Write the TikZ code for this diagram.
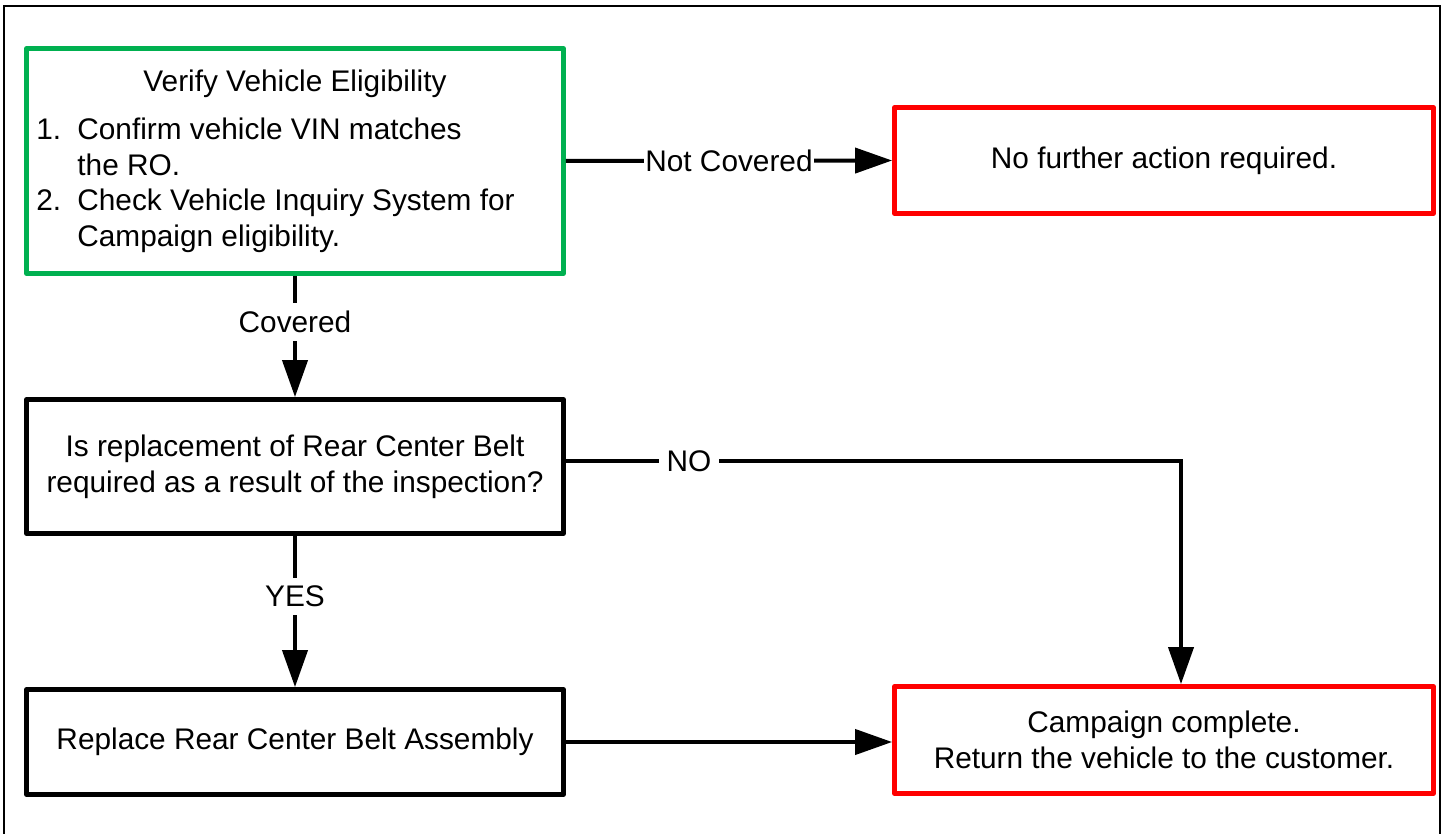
\documentclass[tikz,border=0pt]{standalone}
\usepackage{fontspec}
\setmainfont{Liberation Sans}
\usetikzlibrary{arrows.meta}
\definecolor{boxgreen}{RGB}{0,176,80}
\definecolor{boxred}{RGB}{255,0,0}
\begin{document}
\begin{tikzpicture}[x=0.5pt,y=-0.5pt,
  every node/.style={font=\fontsize{14.9}{17.9}\selectfont},
  box/.style={draw, line width=2.4pt, inner sep=0pt, align=center, line join=round},
  txt/.style={anchor=base west, inner sep=0pt},
  arr/.style={line width=2pt, -{Triangle[length=18.5pt,width=12.5pt]}},
  lbl/.style={fill=white, inner sep=4pt}]
\useasboundingbox (0,0) rectangle (1449,834);
\fill[white] (0,0) rectangle (1449,834);
\draw[line width=1pt] (4,834) -- (4,6) -- (1440,6) -- (1440,834);

% boxes
\node[box, draw=boxgreen, minimum width=268.5pt, minimum height=112.5pt] (g) at (295,161) {};
\node[anchor=base, inner sep=0pt] (gt) at (295,92) {Verify Vehicle Eligibility};
\node[txt] (g1a) at (36,139.5) {\makebox[20.5pt][l]{1.}Confirm vehicle VIN matches};
\node[txt] (g1b) at (36,175.2) {\hspace*{20.5pt}the RO.};
\node[txt] (g2a) at (36,210.9) {\makebox[20.5pt][l]{2.}Check Vehicle Inquiry System for};
\node[txt] (g2b) at (36,246.6) {\hspace*{20.5pt}Campaign eligibility.};

\node[box, draw=boxred, minimum width=269.5pt, minimum height=53pt] (r1) at (1164,160.5) {No further action required.};
\node[box, minimum width=268.5pt, minimum height=67pt] (b1) at (295,466.5) {Is replacement of Rear Center Belt\\required as a result of the inspection?};
\node[box, minimum width=268.5pt, minimum height=52.5pt] (b2) at (295,742) {Replace Rear Center Belt Assembly};
\node[box, draw=boxred, minimum width=269.5pt, minimum height=53.5pt] (r2) at (1164,740) {Campaign complete.\\Return the vehicle to the customer.};

% connectors
\coordinate (nc) at (1181,461);
\draw[arr] (g.east) -- node[lbl, inner xsep=0.5pt, pos=0.5] {Not Covered} (r1.west);
\draw[arr] (g.south) -- node[lbl, pos=0.38] {Covered} (b1.north);
\draw[arr] (b1.south) -- node[lbl, pos=0.40] {YES} (b2.north);
\draw[arr] (b1.east |- nc) -- node[lbl, pos=0.2] {NO} (nc) -- (nc |- r2.north);
\draw[arr] (b2.east) -- (b2.east -| r2.west);
\end{tikzpicture}
\end{document}
